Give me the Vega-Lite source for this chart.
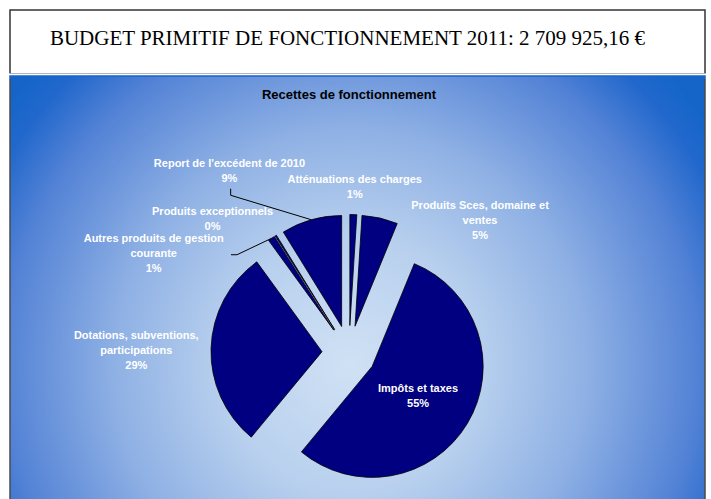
{
  "$schema": "https://vega.github.io/schema/vega-lite/v6.json",
  "padding": {"left": 9, "top": 9, "right": 5, "bottom": -3},
  "background": "white",
  "spacing": 0,
  "config": {
    "view": {"stroke": null},
    "text": {"font": "Liberation Sans", "fontSize": 11, "fontWeight": "bold", "fill": "white", "lineHeight": 15, "baseline": "middle", "align": "center"},
    "rule": {"stroke": "black", "strokeWidth": 1}
  },
  "datasets": {
    "recettes": [
      {"poste": "Atténuations des charges", "part": 1.0, "label": ["Atténuations des charges", "1%"]},
      {"poste": "Produits Sces, domaine et ventes", "part": 5.2, "label": ["Produits Sces, domaine et", "ventes", "5%"]},
      {"poste": "Impôts et taxes", "part": 54.8, "label": ["Impôts et taxes", "55%"]},
      {"poste": "Dotations, subventions, participations", "part": 29.0, "label": ["Dotations, subventions,", "participations", "29%"]},
      {"poste": "Autres produits de gestion courante", "part": 1.0, "label": ["Autres produits de gestion", "courante", "1%"]},
      {"poste": "Produits exceptionnels", "part": 0.2, "label": ["Produits exceptionnels", "0%"]},
      {"poste": "Report de l'excédent de 2010", "part": 8.8, "label": ["Report de l'excédent de 2010", "9%"]}
    ]
  },
  "vconcat": [
    {
      "width": 695,
      "height": 64,
      "view": {
        "fill": "white",
        "stroke": {"gradient": "linear", "x1": 0, "y1": 0, "x2": 0, "y2": 1,
          "stops": [
            {"offset": 0, "color": "#333333"},
            {"offset": 0.988, "color": "#333333"},
            {"offset": 0.996, "color": "#ffffff"},
            {"offset": 1, "color": "#ffffff"}
          ]},
        "strokeWidth": 1.5
      },
      "title": {"text": "BUDGET PRIMITIF DE FONCTIONNEMENT 2011: 2 709 925,16 €", "font": "Liberation Serif", "fontSize": 21, "fontWeight": "normal", "color": "black", "offset": -39, "dx": -10, "anchor": "middle"},
      "data": {"values": []},
      "mark": "point"
    },
    {
      "width": 695,
      "height": 427,
      "view": {
        "fill": {"gradient": "radial", "x1": 0.49, "y1": 0.61, "r1": 0, "x2": 0.49, "y2": 0.61, "r2": 0.62,
          "stops": [
            {"offset": 0, "color": "#d0e1f4"},
            {"offset": 0.3, "color": "#b8d0ee"},
            {"offset": 0.55, "color": "#8eb0e4"},
            {"offset": 0.8, "color": "#5483d6"},
            {"offset": 0.93, "color": "#2268cc"},
            {"offset": 1, "color": "#1565c8"}
          ]},
        "stroke": {"gradient": "linear", "x1": 0, "y1": 0, "x2": 0, "y2": 1,
          "stops": [
            {"offset": 0, "color": "#1565c8"},
            {"offset": 0.006, "color": "#1565c8"},
            {"offset": 0.008, "color": "#4a4a4a"},
            {"offset": 1, "color": "#4a4a4a"}
          ]},
        "strokeWidth": 1.5
      },
      "title": {"text": "Recettes de fonctionnement", "font": "Liberation Sans", "fontSize": 13, "fontWeight": "bold", "color": "black", "offset": -26.2, "dx": -8.5, "anchor": "middle"},
      "data": {"name": "recettes"},
      "transform": [
        {"stack": "part", "groupby": [], "as": ["debut", "fin"]},
        {"calculate": "PI * (datum.debut + datum.fin) / 100", "as": "angle"},
        {"calculate": "27 * sin(datum.angle)", "as": "ex"},
        {"calculate": "27 * cos(datum.angle)", "as": "ey"},
        {"calculate": "150 * sin(datum.angle)", "as": "lx"},
        {"calculate": "150 * cos(datum.angle)", "as": "ly"},
        {"calculate": "138 * sin(datum.angle)", "as": "bx"},
        {"calculate": "138 * cos(datum.angle)", "as": "by"}
      ],
      "layer": [
        {
          "mark": {"type": "arc", "radius": 111, "fill": "#000080", "stroke": "black", "strokeWidth": 0.8},
          "encoding": {
            "x": {"field": "ex", "type": "quantitative", "scale": {"domain": [-339, 356], "nice": false, "zero": false}, "axis": null},
            "y": {"field": "ey", "type": "quantitative", "scale": {"domain": [-150.5, 276.5], "nice": false, "zero": false}, "axis": null},
            "theta": {"field": "debut", "type": "quantitative", "stack": null, "scale": {"domain": [0, 100]}},
            "theta2": {"field": "fin"}
          }
        },
        {
          "transform": [{"filter": {"field": "poste", "equal": "Atténuations des charges"}}],
          "mark": {"type": "text", "dx": 1, "dy": -22.3},
          "encoding": {"x": {"field": "lx", "type": "quantitative"}, "y": {"field": "ly", "type": "quantitative"}, "text": {"field": "label"}}
        },
        {
          "transform": [{"filter": {"field": "poste", "equal": "Produits Sces, domaine et ventes"}}],
          "mark": {"type": "text", "dx": 97.4, "dy": -0.6},
          "encoding": {"x": {"field": "lx", "type": "quantitative"}, "y": {"field": "ly", "type": "quantitative"}, "text": {"field": "label"}}
        },
        {
          "transform": [{"filter": {"field": "poste", "equal": "Impôts et taxes"}}],
          "mark": {"type": "text", "dx": -59.6, "dy": -41},
          "encoding": {"x": {"field": "lx", "type": "quantitative"}, "y": {"field": "ly", "type": "quantitative"}, "text": {"field": "label"}}
        },
        {
          "transform": [{"filter": {"field": "poste", "equal": "Dotations, subventions, participations"}}],
          "mark": {"type": "text", "dx": -62.8, "dy": -11.5},
          "encoding": {"x": {"field": "lx", "type": "quantitative"}, "y": {"field": "ly", "type": "quantitative"}, "text": {"field": "label"}}
        },
        {
          "transform": [{"filter": {"field": "poste", "equal": "Autres produits de gestion courante"}}],
          "mark": {"type": "text", "dx": -111, "dy": 10.8},
          "encoding": {"x": {"field": "lx", "type": "quantitative"}, "y": {"field": "ly", "type": "quantitative"}, "text": {"field": "label"}}
        },
        {
          "transform": [{"filter": {"field": "poste", "equal": "Produits exceptionnels"}}],
          "mark": {"type": "text", "dx": -56.9, "dy": -13.1},
          "encoding": {"x": {"field": "lx", "type": "quantitative"}, "y": {"field": "ly", "type": "quantitative"}, "text": {"field": "label"}}
        },
        {
          "transform": [{"filter": {"field": "poste", "equal": "Report de l'excédent de 2010"}}],
          "mark": {"type": "text", "dx": -78.6, "dy": -44.3},
          "encoding": {"x": {"field": "lx", "type": "quantitative"}, "y": {"field": "ly", "type": "quantitative"}, "text": {"field": "label"}}
        },
        {
          "transform": [
            {"filter": {"field": "poste", "equal": "Report de l'excédent de 2010"}},
            {"calculate": "datum.lx - 77.4", "as": "kx"},
            {"calculate": "datum.ly + 12.9", "as": "ky"}
          ],
          "mark": {"type": "rule"},
          "encoding": {"x": {"field": "bx", "type": "quantitative"}, "y": {"field": "by", "type": "quantitative"}, "x2": {"field": "kx"}, "y2": {"field": "ky"}}
        },
        {
          "transform": [
            {"filter": {"field": "poste", "equal": "Report de l'excédent de 2010"}},
            {"calculate": "datum.lx - 77.4", "as": "kx"},
            {"calculate": "datum.ly + 12.9", "as": "ky"},
            {"calculate": "datum.ly + 19.5", "as": "ky2"}
          ],
          "mark": {"type": "rule"},
          "encoding": {"x": {"field": "kx", "type": "quantitative"}, "y": {"field": "ky", "type": "quantitative"}, "y2": {"field": "ky2"}}
        },
        {
          "transform": [
            {"filter": {"field": "poste", "equal": "Autres produits de gestion courante"}},
            {"calculate": "datum.lx - 27.7", "as": "kx"},
            {"calculate": "datum.ly - 26.3", "as": "ky"}
          ],
          "mark": {"type": "rule"},
          "encoding": {"x": {"field": "bx", "type": "quantitative"}, "y": {"field": "by", "type": "quantitative"}, "x2": {"field": "kx"}, "y2": {"field": "ky"}}
        },
        {
          "transform": [
            {"filter": {"field": "poste", "equal": "Autres produits de gestion courante"}},
            {"calculate": "datum.lx - 27.7", "as": "kx"},
            {"calculate": "datum.lx - 33.7", "as": "kx2"},
            {"calculate": "datum.ly - 26.3", "as": "ky"}
          ],
          "mark": {"type": "rule"},
          "encoding": {"x": {"field": "kx", "type": "quantitative"}, "x2": {"field": "kx2"}, "y": {"field": "ky", "type": "quantitative"}}
        }
      ]
    }
  ]
}
